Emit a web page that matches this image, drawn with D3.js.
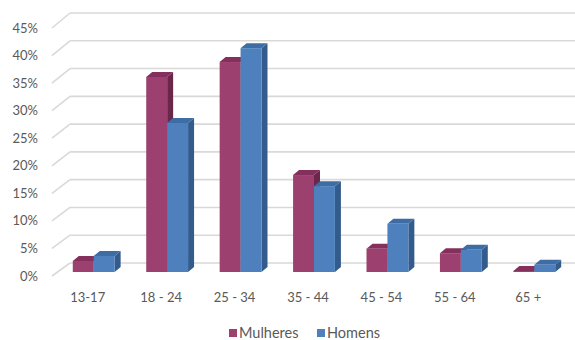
<!DOCTYPE html>
<html>
<head>
<meta charset="utf-8">
<script src="https://d3js.org/d3.v7.min.js"></script>
<style>
body { margin: 0; background: #fff; }
text { font-family: Lato, "Open Sans", sans-serif; fill: #595959; }
</style>
</head>
<body>
<svg id="chart" width="575" height="340"></svg>
<script>

var categories = ["13-17", "18 - 24", "25 - 34", "35 - 44", "45 - 54", "55 - 64", "65 +"];
var series = ["Mulheres", "Homens"];
var mulheres = [0.020, 0.352, 0.379, 0.175, 0.042, 0.034, 0.002];
var homens = [0.029, 0.269, 0.404, 0.155, 0.087, 0.040, 0.013];
var yTicks = [0, 0.05, 0.10, 0.15, 0.20, 0.25, 0.30, 0.35, 0.40, 0.45];

var colors = {
  Mulheres: { front: "#9c416f", top: "#842f5c", side: "#6b2749" },
  Homens: { front: "#4e80bd", top: "#3e6ca5", side: "#335c8c" }
};

var svg = d3.select("#chart");

// depth of the 3d boxes
var dx = 6, dy = -5;

var yBack = d3.scaleLinear().domain([0, 0.45]).range([263, 13]);
var yFront = d3.scaleLinear().domain([0, 0.45]).range([276, 28]);
var yBar = d3.scaleLinear().domain([0, 0.45]).range([272, 272 - 9 * 27.7]);

var x = d3.scaleBand().domain(categories).range([57, 571]).paddingInner(0.43).paddingOuter(0.215);
var xs = d3.scaleBand().domain(series).range([0, x.bandwidth()]);

// gridlines: back wall + side floor diagonal
var grid = svg.append("g");
yTicks.forEach(function(t) {
  grid.append("line")
    .attr("x1", 70).attr("x2", 575)
    .attr("y1", yBack(t)).attr("y2", yBack(t))
    .attr("stroke", "#d9d9d9").attr("stroke-width", 1.6);
  grid.append("line")
    .attr("x1", 52).attr("x2", 70)
    .attr("y1", yFront(t)).attr("y2", yBack(t))
    .attr("stroke", "#d9d9d9").attr("stroke-width", 1.6);
});

// y labels
svg.append("g").selectAll("text")
  .data(yTicks)
  .join("text")
  .attr("x", 38)
  .attr("y", function(d) { return yFront(d); })
  .attr("dy", "0.35em")
  .attr("text-anchor", "end")
  .attr("font-size", 13)
  .text(d3.format(".0%"));

// bars
var rows = [];
categories.forEach(function(c, i) {
  rows.push({ cat: c, s: "Mulheres", v: mulheres[i] });
  rows.push({ cat: c, s: "Homens", v: homens[i] });
});

var bars = svg.append("g").selectAll("g")
  .data(rows)
  .join("g");

bars.each(function(d) {
  var g = d3.select(this);
  var x0 = x(d.cat) + xs(d.s), w = xs.bandwidth();
  var y0 = yBar(d.v), y1 = yBar(0);
  var c = colors[d.s];
  g.append("path")
    .attr("d", "M" + (x0 + w) + "," + y0 + "L" + (x0 + w + dx) + "," + (y0 + dy) +
      "L" + (x0 + w + dx) + "," + (y1 + dy) + "L" + (x0 + w) + "," + y1 + "Z")
    .attr("fill", c.side);
  g.append("path")
    .attr("d", "M" + x0 + "," + y0 + "L" + (x0 + dx) + "," + (y0 + dy) +
      "L" + (x0 + w + dx) + "," + (y0 + dy) + "L" + (x0 + w) + "," + y0 + "Z")
    .attr("fill", c.top);
  g.append("rect")
    .attr("x", x0).attr("y", y0)
    .attr("width", w).attr("height", Math.max(0, y1 - y0))
    .attr("fill", c.front);
});

// category labels
svg.append("g").selectAll("text")
  .data(categories)
  .join("text")
  .attr("x", function(d) { return x(d) + x.bandwidth() / 2 - 6; })
  .attr("y", 297)
  .attr("dy", "0.35em")
  .attr("text-anchor", "middle")
  .attr("font-size", 13)
  .text(function(d) { return d; });

// legend
var legendX = [229, 317];
var legend = svg.append("g").selectAll("g")
  .data(series)
  .join("g")
  .attr("transform", function(d, i) { return "translate(" + legendX[i] + ",329)"; });
legend.append("rect")
  .attr("width", 8).attr("height", 8)
  .attr("fill", function(d) { return colors[d].front; });
legend.append("text")
  .attr("x", 10).attr("y", 4)
  .attr("dy", "0.35em")
  .attr("font-size", 14.5)
  .text(function(d) { return d; });

</script>
</body>
</html>
